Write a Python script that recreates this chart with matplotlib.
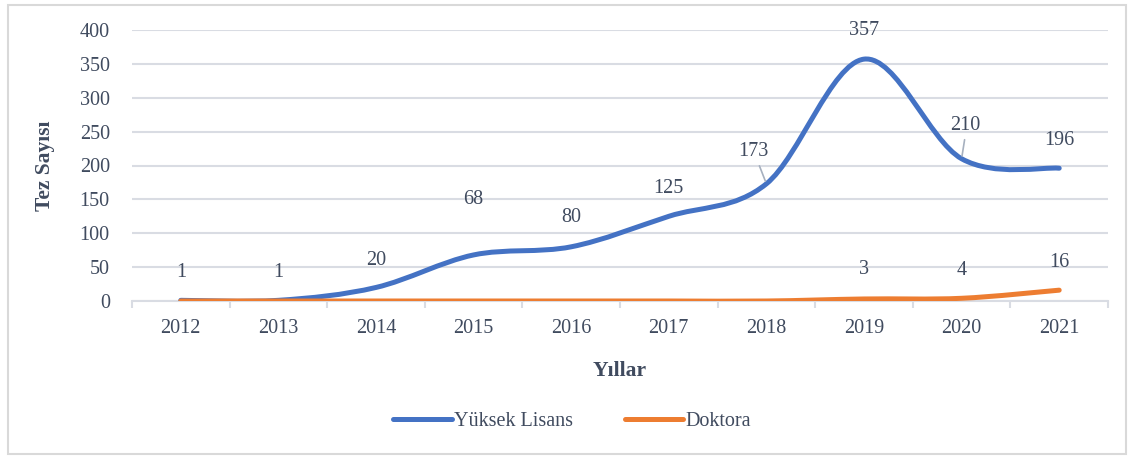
import matplotlib

matplotlib.use("Agg")
import matplotlib.pyplot as plt
from matplotlib.lines import Line2D
from matplotlib.patches import PathPatch, Rectangle
from matplotlib.path import Path

years = [2012, 2013, 2014, 2015, 2016, 2017, 2018, 2019, 2020, 2021]
yuksek_lisans = [1, 1, 20, 68, 80, 125, 173, 357, 210, 196]
doktora = [0, 0, 0, 0, 0, 0, 0, 3, 4, 16]

# label offsets in pixels (dx, dy) from each point, as placed in the original
yl_offsets = [(0, 28), (0, 28), (0, 27), (0, 55), (0, 29), (0, 28),
              (-13, 32), (0, 29), (4, 33), (0, 28)]
dr_offsets = {7: (0, 29), 8: (0, 28), 9: (0, 28)}

TEXT = "#404b5f"
BLUE = "#4472c4"
ORANGE = "#ed7d31"
GRID = "#d9dce3"
FS = 14.5

plt.rcParams["font.family"] = ["Liberation Serif", "DejaVu Serif"]


def smooth_path(xs, ys):
    # Catmull-Rom style bezier, like Excel's "smoothed line"
    pts = list(zip(xs, ys))
    n = len(pts)
    verts = [pts[0]]
    codes = [Path.MOVETO]
    for i in range(n - 1):
        p0 = pts[max(i - 1, 0)]
        p1 = pts[i]
        p2 = pts[i + 1]
        p3 = pts[min(i + 2, n - 1)]
        c1 = (p1[0] + (p2[0] - p0[0]) / 6, p1[1] + (p2[1] - p0[1]) / 6)
        c2 = (p2[0] - (p3[0] - p1[0]) / 6, p2[1] - (p3[1] - p1[1]) / 6)
        verts += [c1, c2, p2]
        codes += [Path.CURVE4] * 3
    return Path(verts, codes)


fig = plt.figure(figsize=(11.32, 4.57), dpi=100)
ax = fig.add_axes([132 / 1132, 1 - 301 / 457, 976 / 1132, 271 / 457])

x = list(range(len(years)))
for vals, color, z in [(yuksek_lisans, BLUE, 3), (doktora, ORANGE, 4)]:
    ax.add_patch(PathPatch(smooth_path(x, vals), fill=False, edgecolor=color,
                           lw=3.6, capstyle="round", joinstyle="round", zorder=z))

for i, v in enumerate(yuksek_lisans):
    dx, dy = yl_offsets[i]
    ax.annotate(str(v), (i, v), xytext=(dx, dy), textcoords="offset pixels",
                ha="center", va="center", fontsize=FS, color=TEXT, zorder=5)
for i, (dx, dy) in dr_offsets.items():
    ax.annotate(str(doktora[i]), (i, doktora[i]), xytext=(dx, dy),
                textcoords="offset pixels", ha="center", va="center",
                fontsize=FS, color=TEXT, zorder=5)

# leader lines for the moved labels
for i, a in {6: (-7, 18), 8: (3, 19)}.items():
    ax.annotate("", (i, yuksek_lisans[i]), xytext=a, textcoords="offset pixels",
                arrowprops=dict(arrowstyle="-", color="#a6b0bf", lw=1.2,
                                shrinkA=0, shrinkB=2))

ax.set_xlim(-0.5, len(years) - 0.5)
ax.set_ylim(0, 400)
ax.set_yticks(range(0, 401, 50))
ax.set_xticks(x)
ax.set_xticklabels([str(y) for y in years])
ax.set_xticks([i - 0.5 for i in range(len(years) + 1)], minor=True)
ax.grid(axis="y", color=GRID, lw=1.5)
ax.set_axisbelow(True)
for s in ["top", "right", "left"]:
    ax.spines[s].set_visible(False)
ax.spines["bottom"].set_color(GRID)
ax.spines["bottom"].set_linewidth(1.5)
ax.tick_params(axis="y", length=0, pad=16, labelsize=FS, labelcolor=TEXT)
ax.tick_params(axis="x", which="major", length=0, pad=13, labelsize=FS,
               labelcolor=TEXT)
ax.tick_params(axis="x", which="minor", length=5, width=1.5, color=GRID)

ax.set_ylabel("Tez Sayısı", fontsize=15.5, fontweight="bold", color=TEXT)
ax.yaxis.set_label_coords(-0.079, 0.5)
ax.set_xlabel("Yıllar", fontsize=15.5, fontweight="bold", color=TEXT)
ax.xaxis.set_label_coords(0.5, -0.221)

handles = [Line2D([], [], color=BLUE, lw=3.6, solid_capstyle="round"),
           Line2D([], [], color=ORANGE, lw=3.6, solid_capstyle="round")]
leg = fig.legend(handles, ["Yüksek Lisans", "Doktora"], loc="center",
                 bbox_to_anchor=(572 / 1132, 1 - 421 / 457), ncol=2,
                 frameon=False, fontsize=FS, handlelength=2.9,
                 handletextpad=0.1, columnspacing=2.6)
for t in leg.get_texts():
    t.set_color(TEXT)

fig.patches.append(Rectangle((8 / 1132, 3 / 457), 1118 / 1132, 449 / 457,
                             transform=fig.transFigure, fill=False,
                             edgecolor="#d9d9d9", lw=1.5))

fig.savefig("out.png", dpi=100)
